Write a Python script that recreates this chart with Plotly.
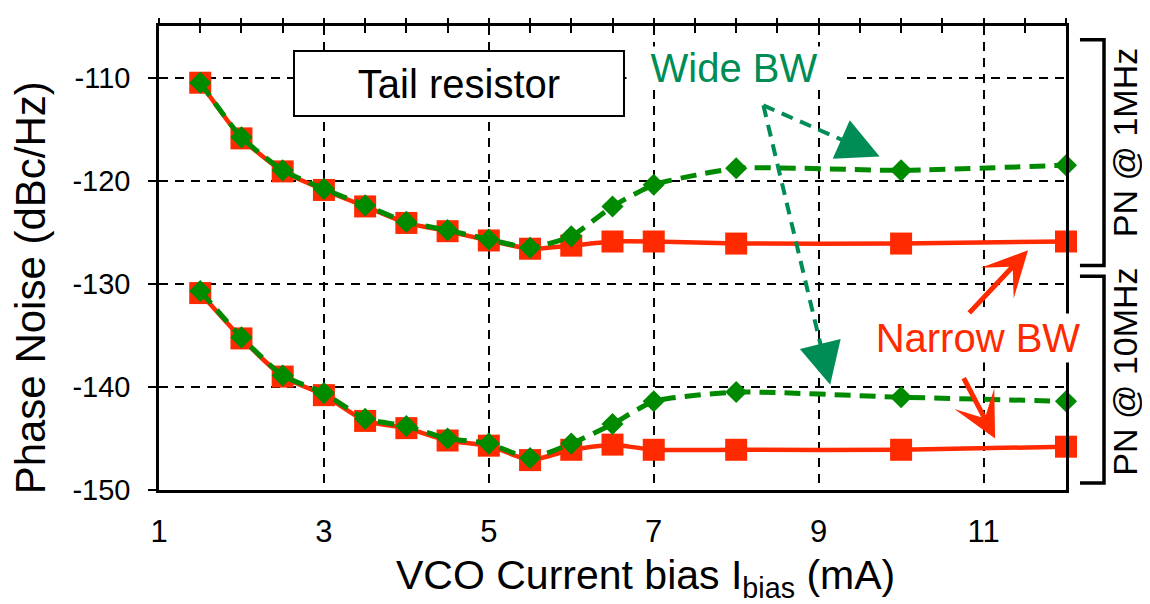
import plotly.graph_objects as go

# ---------------- data ----------------
current_mA = [1.5, 2, 2.5, 3, 3.5, 4, 4.5, 5, 5.5, 6, 6.5, 7, 8, 10, 12]

wide_bw_1MHz = [-110.5, -115.8, -119.0, -120.8, -122.4, -124.0, -124.8, -125.7,
                -126.5, -125.4, -122.5, -120.4, -118.8, -119.0, -118.5]
narrow_bw_1MHz = [-110.5, -115.9, -119.1, -120.9, -122.5, -124.1, -124.9, -125.8,
                  -126.6, -126.3, -125.9, -125.9, -126.1, -126.1, -125.9]
wide_bw_10MHz = [-130.7, -135.2, -138.9, -140.6, -143.1, -143.8, -145.0, -145.5,
                 -146.9, -145.5, -143.6, -141.4, -140.5, -141.0, -141.4]
narrow_bw_10MHz = [-130.9, -135.3, -139.0, -140.8, -143.3, -144.0, -145.2, -145.7,
                   -147.1, -146.1, -145.6, -146.1, -146.1, -146.1, -145.8]

x_tick_vals = [1, 3, 5, 7, 9, 11]
x_tick_text = ["1", "3", "5", "7", "9", "11"]
y_tick_vals = [-110, -120, -130, -140, -150]
y_tick_text = ["-110", "-120", "-130", "-140", "-150"]
x_range = [1, 12]
y_range = [-150, -105]

# ---------------- styles ----------------
RED = "#FF2A00"
GREEN = "#008A00"
TEAL = "#008C55"
FONT = "Liberation Sans, Arial, Helvetica, sans-serif"

fig = go.Figure()

for ys in (narrow_bw_1MHz, narrow_bw_10MHz):
    fig.add_trace(go.Scatter(
        x=current_mA, y=ys, mode="lines+markers", cliponaxis=False,
        line=dict(color=RED, width=4.5, shape="spline", smoothing=0.5),
        marker=dict(symbol="square", size=22, color=RED),
        hoverinfo="skip"))

for ys in (wide_bw_1MHz, wide_bw_10MHz):
    fig.add_trace(go.Scatter(
        x=current_mA, y=ys, mode="lines+markers", cliponaxis=False,
        line=dict(color=GREEN, width=5, dash="16px,9px", shape="spline", smoothing=0.5),
        marker=dict(symbol="diamond", size=17, color=GREEN),
        hoverinfo="skip"))

# invisible carriers for the decorative tick axes
for xa, ya in (("x2", "y"), ("x3", "y"), ("x", "y2")):
    fig.add_trace(go.Scatter(x=[current_mA[0]], y=[wide_bw_1MHz[0]], mode="markers",
                             marker=dict(opacity=0), xaxis=xa, yaxis=ya,
                             hoverinfo="skip", showlegend=False))

grid = dict(showgrid=True, gridcolor="black", gridwidth=1.8, griddash="9px,7px")

fig.update_layout(
    width=1150, height=604,
    margin=dict(l=151, r=92, t=11, b=122),
    paper_bgcolor="white", plot_bgcolor="white",
    showlegend=False,
    font=dict(family=FONT, color="black"),
    xaxis=dict(range=x_range, tickmode="array", tickvals=x_tick_vals,
               ticktext=x_tick_text, ticks="",
               showline=True, linecolor="black", linewidth=2.5, mirror=True,
               zeroline=False, tickfont=dict(size=31, family=FONT, color="black"),
               ticklabelstandoff=12, **grid),
    yaxis=dict(range=y_range, tickmode="array", tickvals=y_tick_vals,
               ticktext=y_tick_text,
               ticks="outside", ticklen=8, tickwidth=2.2, tickcolor="black",
               showline=True, linecolor="black", linewidth=2.5, mirror=True,
               zeroline=False, tickfont=dict(size=29, family=FONT, color="black"),
               ticklabelstandoff=12, **grid),
    xaxis2=dict(range=x_range, overlaying="x", side="top", anchor="y",
                tick0=1, dtick=0.5, ticks="outside", ticklen=7, tickwidth=2,
                tickcolor="black", showticklabels=False, showgrid=False,
                showline=False, zeroline=False),
    xaxis3=dict(range=x_range, overlaying="x", side="top", anchor="y",
                tick0=1, dtick=0.5, ticks="inside", ticklen=7, tickwidth=2,
                tickcolor="black", showticklabels=False, showgrid=False,
                showline=False, zeroline=False),
    yaxis2=dict(range=y_range, overlaying="y", side="left", anchor="x",
                tickmode="array", tickvals=y_tick_vals, ticks="inside", ticklen=8,
                tickwidth=2.2, tickcolor="black", showticklabels=False,
                showgrid=False, showline=False, zeroline=False),
)

annotations = [
    # axis titles
    dict(text="VCO Current bias I<sub>bias</sub> (mA)", xref="paper", yref="paper",
         x=0.536, y=-0.189, xanchor="center", yanchor="middle", showarrow=False,
         font=dict(size=41, family=FONT, color="black")),
    dict(text="Phase Noise (dBc/Hz)", xref="paper", yref="paper", textangle=-90,
         x=-0.142, y=0.435, xanchor="center", yanchor="middle", showarrow=False,
         font=dict(size=42, family=FONT, color="black")),
    # boxed label
    dict(text="Tail resistor", xref="paper", yref="paper", x=0.3308, y=0.877,
         xanchor="center", yanchor="middle", showarrow=False,
         font=dict(size=40, family=FONT, color="black"),
         bgcolor="white", bordercolor="black", borderwidth=2, borderpad=1,
         width=326, height=61),
    dict(text="Wide BW", xref="paper", yref="paper", x=0.634, y=0.909,
         xanchor="center", yanchor="middle", showarrow=False,
         font=dict(size=40, family=FONT, color=TEAL), bgcolor="white",
         width=212, height=40),
    dict(text="Narrow BW", xref="paper", yref="paper", x=0.903, y=0.327,
         xanchor="center", yanchor="middle", showarrow=False,
         font=dict(size=40, family=FONT, color=RED), bgcolor="white",
         width=216, height=46),
    # right-hand labels
    dict(text="PN @ 1MHz", xref="paper", yref="paper", x=1.065, y=0.7495,
         textangle=-90, xanchor="center", yanchor="middle", showarrow=False,
         font=dict(size=34, family=FONT, color="black")),
    dict(text="PN @ 10MHz", xref="paper", yref="paper", x=1.065, y=0.2548,
         textangle=-90, xanchor="center", yanchor="middle", showarrow=False,
         font=dict(size=34, family=FONT, color="black")),
    # red arrows
    dict(x=11.54, y=-126.75, ax=10.81, ay=-132.97, xref="x", yref="y",
         axref="x", ayref="y", showarrow=True, arrowhead=3, arrowwidth=5,
         arrowsize=1.5, arrowcolor=RED, text=""),
    dict(x=11.14, y=-145.0, ax=10.75, ay=-139.0, xref="x", yref="y",
         axref="x", ayref="y", showarrow=True, arrowhead=3, arrowwidth=5,
         arrowsize=1.5, arrowcolor=RED, text=""),
    # green arrow heads
    dict(x=9.74, y=-117.65, ax=9.412, ay=-116.49, xref="x", yref="y",
         axref="x", ayref="y", showarrow=True, arrowhead=2, arrowwidth=4,
         arrowsize=2.1, arrowcolor=TEAL, text=""),
    dict(x=9.14, y=-139.8, ax=9.054, ay=-136.97, xref="x", yref="y",
         axref="x", ayref="y", showarrow=True, arrowhead=2, arrowwidth=4,
         arrowsize=2.1, arrowcolor=TEAL, text=""),
]
fig.update_layout(annotations=annotations)

shapes = [
    # brackets
    dict(type="path", xref="paper", yref="paper",
         path="M 1.0154,0.9703 H 1.0419 V 0.4841 H 1.0154",
         line=dict(color="black", width=3.5)),
    dict(type="path", xref="paper", yref="paper",
         path="M 1.0154,0.4607 H 1.0419 V 0.0149 H 1.0154",
         line=dict(color="black", width=3.5)),
    # green dashed arrow shafts
    dict(type="line", xref="x", yref="y", x0=8.33, y0=-112.7, x1=9.523, y1=-116.88,
         line=dict(color=TEAL, width=4, dash="12px,8px"), layer="above"),
    dict(type="line", xref="x", yref="y", x0=8.33, y0=-112.7, x1=9.083, y1=-137.9,
         line=dict(color=TEAL, width=4, dash="12px,8px"), layer="above"),
]
fig.update_layout(shapes=shapes)

fig.write_html("out.html")
